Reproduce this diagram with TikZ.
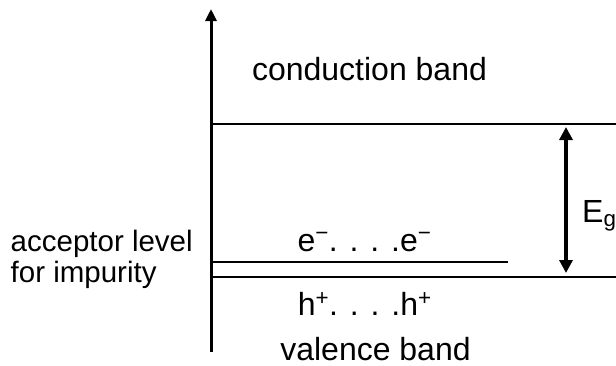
\documentclass[tikz,border=0pt]{standalone}
\usepackage{fontspec}
\setmainfont{Liberation Sans}
\usetikzlibrary{arrows.meta}
\tikzset{
  lbl/.style={inner sep=0pt, font=\fontsize{32}{38}\selectfont},
  sidelbl/.style={inner sep=0pt, anchor=base west, font=\fontsize{29.5}{35}\selectfont},
  axisline/.style={line width=3pt, -{Triangle[length=12pt,width=11pt]}},
  bandline/.style={line width=2.2pt},
  acclevel/.style={line width=1.4pt},
  gaparrow/.style={line width=4.6pt, {Triangle[length=13pt,width=13pt]}-{Triangle[length=13pt,width=13pt]}},
}
\newcommand{\supmin}{\raisebox{2pt}{\textsuperscript{−}}}
\begin{document}
\begin{tikzpicture}[x=1pt,y=-1pt]
\useasboundingbox (0,0) rectangle (616,365);
% axis
\coordinate (axb) at (211,352);
\coordinate (axt) at (211,9);
\draw[axisline] (axb) -- (axt);
% band edges
\coordinate (cbl) at (211,124);
\coordinate (cbr) at (616,124);
\coordinate (vbl) at (211,277);
\coordinate (vbr) at (616,277);
\coordinate (acl) at (211,262);
\coordinate (acr) at (508,262);
\draw[bandline] (cbl) -- (cbr);
\draw[bandline] (vbl) -- (vbr);
\draw[acclevel] (acl) -- (acr);
% gap arrow
\coordinate (gt) at (566,127);
\coordinate (gb) at (566,273);
\draw[gaparrow] (gt) -- (gb);
% labels
\node[lbl, anchor=base] (cond) at (369.5,80) {conduction band};
\node[lbl, anchor=base] (val) at (375.5,360) {valence band};
\node[lbl, anchor=base] (elec) at (364.5,251.5) {e\supmin. . . .e\supmin};
\node[lbl, anchor=base] (hole) at (364.8,315) {h\textsuperscript{+}. . . .h\textsuperscript{+}};
\node[sidelbl] (acc1) at (10.5,251.5) {acceptor level};
\node[sidelbl] (acc2) at (10.5,282) {for impurity};
\node[lbl, anchor=base west] (eg) at (582,222.5) {E\textsubscript{g}};
\end{tikzpicture}
\end{document}
